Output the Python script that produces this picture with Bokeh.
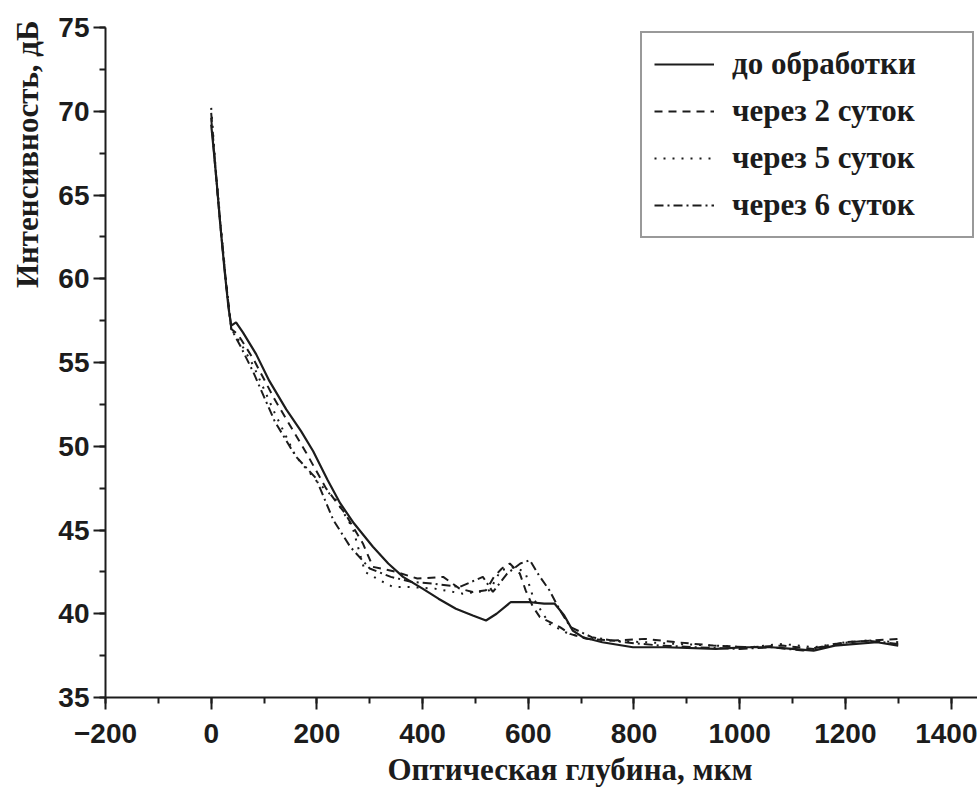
from bokeh.plotting import figure
from bokeh.models import Range1d, Legend, LegendItem, SingleIntervalTicker, Title
from bokeh.embed import file_html
from bokeh.resources import INLINE

# ---- data ----
x_before = [0, 5, 10, 17, 25, 33, 38, 47, 60, 85, 110, 142, 170, 193, 220, 244, 270, 306, 335, 363, 400,
            430, 463, 495, 520, 540, 567, 600, 630, 650, 668, 684, 703, 740, 798, 860, 955, 1010, 1060,
            1100, 1140, 1180, 1220, 1260, 1300]
y_before = [69.2, 67.6, 65.9, 63.3, 60.6, 58.2, 57.2, 57.4, 56.8, 55.5, 53.9, 52.2, 50.9, 49.7, 48.0, 46.6,
            45.4, 44.0, 43.0, 42.2, 41.5, 40.9, 40.3, 39.9, 39.6, 40.0, 40.7, 40.7, 40.6, 40.6, 39.9, 39.0,
            38.6, 38.3, 38.0, 38.0, 37.9, 38.0, 38.0, 37.9, 37.8, 38.1, 38.2, 38.3, 38.1]

x_day2 = [0, 8, 18, 28, 38, 50, 80, 120, 180, 217, 253, 287, 306, 350, 390, 439, 470, 495, 520, 535, 550,
          565, 584, 595, 609, 622, 660, 679, 710, 760, 820, 880, 950, 1020, 1080, 1140, 1200, 1250, 1300]
y_day2 = [69.6, 66.5, 63.0, 59.8, 57.0, 56.7, 55.2, 52.8, 49.6, 47.5, 46.0, 44.2, 42.8, 42.5, 42.1, 42.2,
          41.5, 41.3, 41.4, 42.2, 42.7, 43.0, 42.4, 41.4, 40.4, 39.8, 39.2, 38.8, 38.5, 38.4, 38.5, 38.3,
          38.1, 38.0, 38.1, 37.9, 38.3, 38.4, 38.5]

x_day5 = [0, 8, 18, 28, 38, 55, 80, 120, 160, 200, 236, 268, 291, 319, 344, 372, 423, 476, 527, 548, 577,
          595, 610, 640, 670, 700, 750, 820, 880, 950, 1020, 1080, 1140, 1200, 1250, 1300]
y_day5 = [70.2, 66.8, 63.2, 59.9, 57.0, 56.2, 54.8, 52.0, 49.4, 47.9, 46.8, 45.1, 42.5, 42.0, 41.6, 41.6,
          41.5, 41.2, 41.4, 42.6, 42.8, 42.4, 40.9, 39.4, 38.9, 38.6, 38.4, 38.3, 38.2, 38.1, 38.0, 38.2,
          38.0, 38.3, 38.4, 38.3]

x_day6 = [0, 8, 18, 28, 38, 55, 80, 120, 160, 198, 231, 263, 300, 340, 380, 420, 470, 514, 533, 560, 585,
          603, 620, 640, 660, 680, 720, 780, 850, 920, 1000, 1060, 1120, 1180, 1240, 1300]
y_day6 = [69.9, 66.6, 63.0, 59.7, 57.0, 56.0, 54.4, 51.5, 49.4, 48.1, 45.6, 44.0, 42.7, 42.2, 41.9, 41.8,
          41.6, 42.2, 41.3, 42.4, 43.0, 43.2, 42.3, 41.4, 40.2, 39.2, 38.6, 38.3, 38.1, 38.0, 37.9, 38.0,
          37.8, 38.2, 38.4, 38.2]

labels = ["до обработки", "через 2 суток", "через 5 суток", "через 6 суток"]
x_title = "Оптическая глубина, мкм"
y_title = "Интенсивность, дБ"
x_ticks_interval = 200
y_ticks_interval = 5

# ---- figure ----
INK = "#1c1c1c"
FL, FT, FB = 103, 27, 99
p = figure(width=977, height=796, x_range=Range1d(-200, 1450), y_range=Range1d(35, 75),
           output_backend="svg", toolbar_location=None,
           min_border_left=FL, min_border_right=0, min_border_top=FT, min_border_bottom=FB)
p.outline_line_color = None
p.xgrid.grid_line_color = None
p.ygrid.grid_line_color = None
p.background_fill_color = "white"

p.xaxis.ticker = SingleIntervalTicker(interval=x_ticks_interval, num_minor_ticks=2)
p.yaxis.ticker = SingleIntervalTicker(interval=y_ticks_interval, num_minor_ticks=2)

for ax in (p.xaxis[0], p.yaxis[0]):
    ax.axis_line_color = INK
    ax.axis_line_width = 2
    ax.major_tick_line_color = INK
    ax.major_tick_line_width = 2
    ax.minor_tick_line_color = INK
    ax.minor_tick_line_width = 2
    ax.major_tick_in = 0
    ax.major_tick_out = 12
    ax.minor_tick_in = 0
    ax.minor_tick_out = 6
    ax.major_label_text_font = "Liberation Sans"
    ax.major_label_text_font_style = "bold"
    ax.major_label_text_font_size = "28px"
    ax.major_label_text_color = INK
p.xaxis.major_label_standoff = 14
p.yaxis.major_label_standoff = 4

p.add_layout(Title(text=y_title, align="right", offset=-7, vertical_align="top",
                   text_font="Liberation Serif", text_font_style="bold", text_font_size="31px",
                   text_color=INK, standoff=18), "left")
p.add_layout(Title(text=x_title, align="left", offset=282, text_font="Liberation Serif",
                   text_font_style="bold", text_font_size="31px", text_color=INK, standoff=8), "below")

r0 = p.line(x_before, y_before, line_color=INK, line_width=2.2)
r1 = p.line(x_day2, y_day2, line_color=INK, line_width=2, line_dash="8 6")
r2 = p.line(x_day5, y_day5, line_color=INK, line_width=2, line_dash="2 7")
r3 = p.line(x_day6, y_day6, line_color=INK, line_width=2, line_dash="9 4 2 4")

pad = 12
lh = 38
sp = 9
H = 2 * pad + 4 * lh + 3 * sp
legend = Legend(items=[LegendItem(label=labels[0], renderers=[r0]),
                       LegendItem(label=labels[1], renderers=[r1]),
                       LegendItem(label=labels[2], renderers=[r2]),
                       LegendItem(label=labels[3], renderers=[r3])],
                location=(638 - FL, (796 - FB) - 35 - H),
                padding=pad, spacing=sp, margin=0,
                label_height=lh, glyph_height=lh, glyph_width=60, label_standoff=18,
                label_width=228,
                label_text_font="Liberation Serif", label_text_font_style="bold",
                label_text_font_size="31px", label_text_color=INK,
                border_line_color="#333333", border_line_width=2,
                background_fill_color="white", background_fill_alpha=1)
p.add_layout(legend)

open("out.html", "w").write(file_html(p, INLINE))
